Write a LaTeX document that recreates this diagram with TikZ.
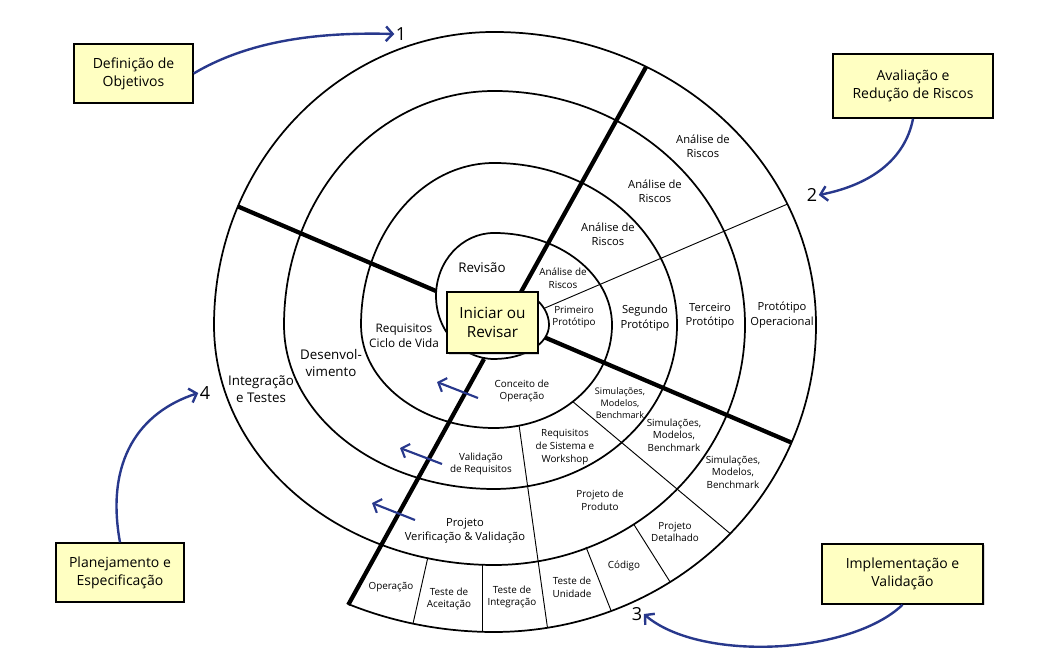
\documentclass[tikz,border=0pt]{standalone}
\usepackage{fontspec}
\setmainfont{Open Sans}
\usetikzlibrary{arrows.meta,shadows}
\definecolor{boxyellow}{RGB}{255,255,194}
\definecolor{arrowblue}{RGB}{40,56,140}

\begin{document}
\begin{tikzpicture}[x=0.75pt,y=-0.75pt,>=Stealth,
  ring/.style={line width=1.3pt},
  quad/.style={line width=3.2pt},
  sep/.style={line width=0.7pt},
  phase/.style={draw,line width=1.2pt,fill=boxyellow,align=center,inner sep=2pt,
    font=\fontsize{10.5}{13.5}\selectfont,drop shadow={opacity=0.3,shadow xshift=1pt,shadow yshift=-1pt}},
  bigtxt/.style={align=center,inner sep=0pt,font=\fontsize{10}{12.5}\selectfont},
  midtxt/.style={align=center,inner sep=0pt,font=\fontsize{8.4}{10.7}\selectfont},
  smltxt/.style={align=center,inner sep=0pt,font=\fontsize{7.4}{9.5}\selectfont},
  tnytxt/.style={align=center,inner sep=0pt,font=\fontsize{6.8}{8.8}\selectfont},
  num/.style={inner sep=1pt,font=\fontsize{13.5}{14}\selectfont},
  flow/.style={arrowblue,line width=1.8pt,-{Straight Barb[length=5pt,width=11pt]}}]
  \useasboundingbox (0,0) rectangle (1038,671);

  % ---------------- spiral ----------------
  \draw[ring] (532.9,296.7) arc[start angle=-45,end angle=0,x radius=55,y radius=40]
    arc[start angle=0,end angle=90,x radius=55,y radius=34]
    arc[start angle=90,end angle=270,x radius=58,y radius=63]
    \foreach \sa/\rx/\ry in {270/118/92,
                             0/118/103, 90/133/103, 180/133/162, 270/183/162,
                             0/183/164, 90/210/164, 180/210/234, 270/251/234,
                             0/251/240, 90/280/240, 180/280/293, 270/322/293,
                             0/322/307}{
      arc[start angle=\sa,delta angle=90,x radius=\rx,y radius=\ry]
    }
    arc[start angle=90,end angle=114.6,x radius=350,y radius=307];

  % quadrant lines
  \draw[quad] (521,292) -- (646,67);
  \draw[quad] (484,359) -- (348.2,604.9);
  \draw[quad] (436,291) -- (238,206.5);
  \draw[quad] (545.2,337.6) -- (791.5,442.6);

  % segment borders
  \draw[sep] (544,308.4) -- (787.6,204);
  \draw[sep] (572.6,401.5) -- (730.5,533.8);
  \draw[sep] (519.1,425.6) -- (547.5,628);
  \draw[sep] (633.7,524.2) -- (670.2,582.1);
  \draw[sep] (586,547) -- (611.1,610.8);
  \draw[sep] (482,564.8) -- (482,631.8);
  \draw[sep] (427.7,558.1) -- (412.9,624.1);

  % ---------------- labels inside the spiral ----------------
  \node[bigtxt] (rev) at (482,268) {Revisão};
  \node[smltxt] (ar1) at (563,278) {Análise de\\Riscos};
  \node[midtxt] (ar2) at (608,234) {Análise de\\Riscos};
  \node[midtxt] (ar3) at (655,191) {Análise de\\Riscos};
  \node[midtxt] (ar4) at (703,146) {Análise de\\Riscos};
  \node[smltxt] (pp1) at (574,317) {Primeiro\\Protótipo};
  \node[midtxt] (pp2) at (645,318) {Segundo\\Protótipo};
  \node[midtxt] (pp3) at (710,316) {Terceiro\\Protótipo};
  \node[midtxt] (pop) at (782,315) {Protótipo\\Operacional};
  \node[font=\fontsize{8.8}{11.2}\selectfont,align=center,inner sep=0pt] (rcv) at (404,336) {Requisitos\\Ciclo de Vida};
  \node[bigtxt] (dev) at (331,363) {Desenvol-\\vimento};
  \node[bigtxt] (int) at (261,389) {Integração\\e Testes};
  \node[smltxt] (cop) at (522,391) {Conceito de\\Operação};
  \node[tnytxt] (sim1) at (620,403) {Simulações,\\Modelos,\\Benchmark};
  \node[smltxt] (sim2) at (674,435) {Simulações,\\Modelos,\\Benchmark};
  \node[smltxt] (sim3) at (733,472) {Simulações,\\Modelos,\\Benchmark};
  \node[smltxt] (rsw) at (565,447) {Requisitos\\de Sistema e\\Workshop};
  \node[smltxt] (vre) at (481,464) {Validação\\de Requisitos};
  \node[smltxt] (ppr) at (600,500) {Projeto de\\Produto};
  \node[midtxt] (pvv) at (465,531) {Projeto\\Verificação \& Validação};
  \node[smltxt] (pde) at (675,532) {Projeto\\Detalhado};
  \node[smltxt] (cod) at (624,566) {Código};
  \node[smltxt] (tun) at (572,587) {Teste de\\Unidade};
  \node[smltxt] (tin) at (512,597) {Teste de\\Integração};
  \node[smltxt] (tac) at (449,599) {Teste de\\Aceitação};
  \node[smltxt] (ope) at (391,587) {Operação};

  % backward arrows across the boundary
  \draw[flow,line width=1.6pt] (478,398) -- (437,382);
  \draw[flow,line width=1.6pt] (442,464) -- (400,448);
  \draw[flow,line width=1.6pt] (415,520) -- (372,503);

  % ---------------- phases ----------------
  \node[phase,minimum width=68pt,minimum height=46pt,font=\fontsize{11.5}{14.5}\selectfont] (start) at (492.5,322.5) {Iniciar ou\\Revisar};
  \node[phase,minimum width=89pt,minimum height=44pt] (defobj) at (133.5,73.5) {Definição de\\Objetivos};
  \node[phase,minimum width=120pt,minimum height=48pt] (avred) at (913,86) {Avaliação e\\Redução de Riscos};
  \node[phase,minimum width=96pt,minimum height=44pt] (plaesp) at (120,572.5) {Planejamento e\\Especificação};
  \node[phase,minimum width=121pt,minimum height=45pt] (impval) at (902.5,574) {Implementação e\\Validação};

  \node[num] (n1) at (401,34) {1};
  \node[num] (n2) at (812,195) {2};
  \node[num] (n3) at (637,614) {3};
  \node[num] (n4) at (205,393) {4};

  \draw[flow] (defobj.east) .. controls (250,40) and (320,32) .. (n1.west);
  \draw[flow] (avred.south) .. controls (905,160) and (870,185) .. (n2.east);
  \draw[flow] (impval.south) .. controls (850,655) and (700,662) .. (n3.east);
  \draw[flow] (plaesp.north) .. controls (105,460) and (140,412) .. (n4.west);
\end{tikzpicture}
\end{document}
